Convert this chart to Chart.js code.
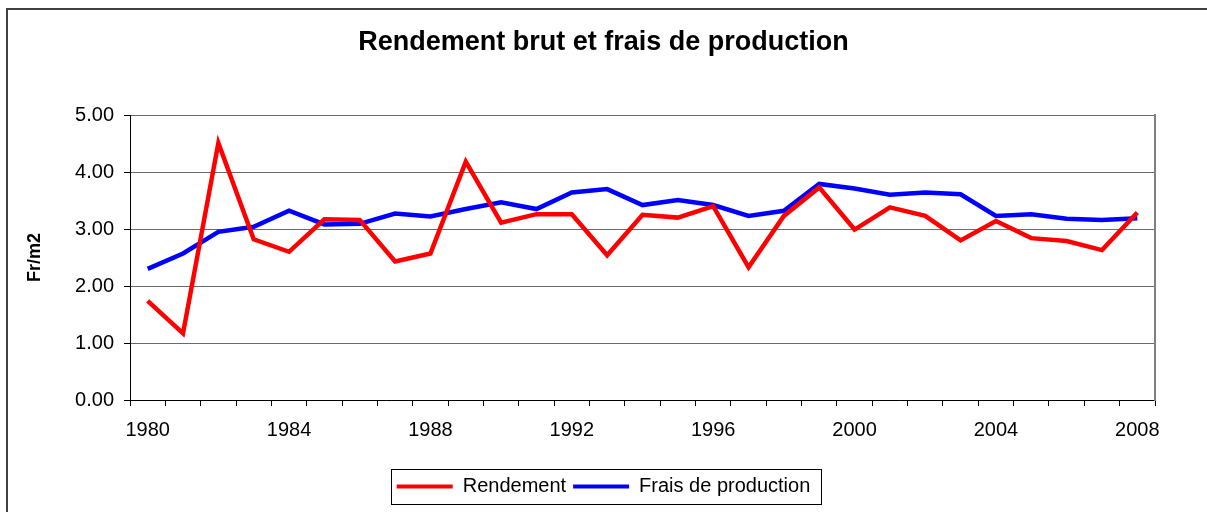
<!DOCTYPE html>
<html><head><meta charset="utf-8">
<script src="https://cdn.jsdelivr.net/npm/chart.js@4/dist/chart.umd.min.js"></script>
<style>html,body{margin:0;padding:0;background:#fff}</style>
</head><body>
<canvas id="c" width="1207" height="512"></canvas>
<script>
const years = ['1980','1981','1982','1983','1984','1985','1986','1987','1988','1989','1990','1991','1992','1993','1994','1995','1996','1997','1998','1999','2000','2001','2002','2003','2004','2005','2006','2007','2008'];
const shownYears = ['1980','1984','1988','1992','1996','2000','2004','2008'];
const rendement = [1.74,1.17,4.51,2.82,2.60,3.17,3.16,2.43,2.57,4.18,3.11,3.26,3.26,2.54,3.25,3.20,3.40,2.33,3.23,3.73,2.99,3.38,3.23,2.80,3.14,2.84,2.79,2.63,3.29];
const frais = [2.30,2.57,2.95,3.04,3.32,3.08,3.09,3.27,3.22,3.35,3.47,3.35,3.64,3.70,3.42,3.51,3.42,3.23,3.32,3.79,3.71,3.60,3.64,3.61,3.23,3.26,3.18,3.16,3.19];
const yTicks = [0,1,2,3,4,5];

Chart.defaults.font.family = "'Liberation Sans', Arial, sans-serif";
Chart.defaults.color = '#000';

const framePlugin = {
  id: 'frame',
  beforeDraw(chart) {
    const ctx = chart.ctx;
    ctx.save();
    ctx.fillStyle = '#fff';
    ctx.fillRect(0, 0, chart.width, chart.height);
    ctx.strokeStyle = '#404040';
    ctx.lineWidth = 2;
    ctx.beginPath();
    ctx.moveTo(7, 520); ctx.lineTo(7, 9); ctx.lineTo(1215, 9);
    ctx.stroke();
    ctx.restore();
  },
  afterDraw(chart) {
    const lg = chart.legend;
    const hb = lg.legendHitBoxes;
    if (!hb || !hb.length) return;
    const first = hb[0], last = hb[hb.length - 1];
    const cy = first.top + first.height / 2;
    const left = Math.round(first.left - 6) + 0.5;
    const right = Math.round(last.left + last.width + 11) + 0.5;
    const top = Math.round(cy - 17.5) + 0.5;
    const ctx = chart.ctx;
    ctx.save();
    ctx.strokeStyle = '#000';
    ctx.lineWidth = 1;
    ctx.strokeRect(left, top, right - left, 35);
    ctx.restore();
  }
};

new Chart(document.getElementById('c'), {
  type: 'line',
  data: {
    labels: years,
    datasets: [
      { label: 'Rendement', data: rendement, borderColor: '#ff0000', backgroundColor: '#ff0000', borderWidth: 4.5, pointRadius: 0, tension: 0, fill: false, borderJoinStyle: 'miter' },
      { label: 'Frais de production', data: frais, borderColor: '#0000ff', backgroundColor: '#0000ff', borderWidth: 4.5, pointRadius: 0, tension: 0, fill: false, borderJoinStyle: 'miter' }
    ]
  },
  options: {
    responsive: false,
    animation: false,
    devicePixelRatio: 1,
    layout: { padding: { left: 0, right: 0, top: 0, bottom: 5.5 } },
    plugins: {
      title: {
        display: true,
        text: 'Rendement brut et frais de production',
        font: { size: 27, weight: 'bold' },
        color: '#000',
        padding: { top: 26, bottom: 56.6 }
      },
      legend: {
        display: true,
        position: 'bottom',
        labels: {
          boxWidth: 56,
          boxHeight: 4,
          padding: 7,
          font: { size: 20 },
          color: '#000',
          generateLabels(chart) {
            return chart.data.datasets.map((d, i) => ({
              text: d.label, fillStyle: d.borderColor, strokeStyle: d.borderColor, lineWidth: 0, datasetIndex: i, hidden: false
            }));
          }
        }
      },
      tooltip: { enabled: false }
    },
    scales: {
      x: {
        type: 'category',
        offset: true,
        grid: { display: true, drawOnChartArea: false, offset: true, tickLength: 6, color: '#000', tickColor: '#000' },
        border: { color: '#000', width: 1 },
        ticks: {
          autoSkip: false, maxRotation: 0, minRotation: 0, padding: 12,
          font: { size: 20 }, color: '#000',
          callback(v) { const l = this.getLabelForValue(v); return shownYears.includes(l) ? l : ''; }
        },
        afterFit(s) { s.height = 69.5; }
      },
      y: {
        position: 'left',
        min: 0, max: 5,
        afterBuildTicks(s) { s.ticks = yTicks.map(v => ({ value: v })); },
        grid: { color: '#6a6a6a', tickColor: '#000', tickLength: 6, lineWidth: 1 },
        border: { color: '#000', width: 1 },
        ticks: { padding: 10, font: { size: 20 }, color: '#000', callback: v => Number(v).toFixed(2) },
        title: { display: true, text: 'Fr/m2', font: { size: 18, weight: 'bold' }, color: '#000', padding: { top: 24, bottom: 0 } },
        afterFit(s) { s.width = 130; }
      },
      y2: {
        position: 'right',
        min: 0, max: 5,
        grid: { display: false },
        ticks: { display: false },
        border: { color: '#808080', width: 2 },
        afterFit(s) { s.width = 52; }
      }
    }
  },
  plugins: [framePlugin]
});
</script>
</body></html>
